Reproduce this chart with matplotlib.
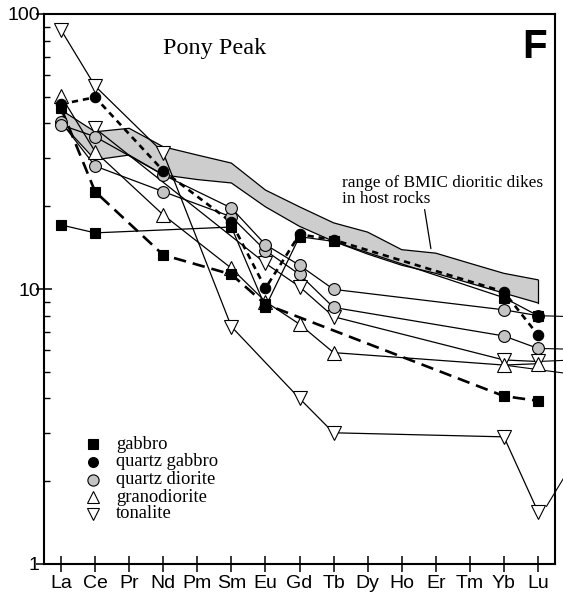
import matplotlib
matplotlib.use("Agg")
import matplotlib.pyplot as plt
import numpy as np

plt.rcParams['lines.scale_dashes'] = False

# Chondrite-normalised REE patterns, Pony Peak intrusive suite
ree = ['La', 'Ce', 'Pr', 'Nd', 'Pm', 'Sm', 'Eu', 'Gd', 'Tb', 'Dy', 'Ho', 'Er', 'Tm', 'Yb', 'Lu']
N = None

gabbro_a = [17.1, 16.0, N, N, N, 16.8, 8.6, 15.5, 14.9, N, N, N, N, 9.3, 8.0]
gabbro_b = [45.5, 22.6, N, 13.3, N, 11.3, 8.8, N, N, N, N, N, N, 4.08, 3.92]
qtz_gabbro = [47.0, 49.8, N, 26.9, N, 17.5, 10.06, 15.8, 15.1, N, N, N, N, 9.77, 6.8]
qtz_diorite_a = [39.5, 35.8, N, 26.0, N, 19.7, 14.5, 12.2, 9.97, N, N, N, N, 8.4, 8.0]
qtz_diorite_b = [40.5, 28.0, N, 22.6, N, 18.3, 13.8, 11.3, 8.57, N, N, N, N, 6.75, 6.08]
granodiorite = [50.3, 31.6, N, 18.6, N, 11.9, 9.0, 7.45, 5.87, N, N, N, N, 5.29, 5.35]
tonalite_a = [87.5, 54.7, N, 31.3, N, 7.3, N, 4.0, 3.0, N, N, N, N, 2.9, 1.55]
tonalite_b = [N, 38.4, N, N, N, N, 12.4, 10.2, 7.93, N, N, N, N, 5.52, 5.45]

# range of BMIC dioritic dikes in host rocks
dike_upper = [44.8, 37.3, 38.4, 32.9, 30.7, 28.7, 22.9, 19.9, 17.4, 16.1, 13.9, 13.5, 12.4, 11.4, 10.8]
dike_lower = [40.2, 29.5, 30.7, 26.0, 25.0, 24.3, 19.9, 16.9, 14.9, 13.4, 12.2, 11.4, 10.5, 9.66, 8.9]

legend_labels = ['gabbro', 'quartz gabbro', 'quartz diorite', 'granodiorite', 'tonalite']

GREY = '#c4c4c4'
styles = {
    'sq': dict(marker='s', ms=7.5, mfc='black', mec='black', mew=0.8),
    'ci': dict(marker='o', ms=7.5, mfc='black', mec='black', mew=0.8),
    'gc': dict(marker='o', ms=8.5, mfc=GREY, mec='black', mew=0.8),
    'up': dict(marker='^', ms=9.5, mfc='white', mec='black', mew=0.8),
    'dn': dict(marker='v', ms=9.5, mfc='white', mec='black', mew=0.8),
}
solid = dict(ls='-', lw=0.9, color='black')
long_dash = dict(ls=(0, (9, 5)), lw=1.9, color='black')
short_dash = dict(ls=(0, (4.5, 3.5)), lw=1.9, color='black')

series = [
    (tonalite_a, 'dn', solid),
    (tonalite_b, 'dn', solid),
    (granodiorite, 'up', solid),
    (qtz_diorite_b, 'gc', solid),
    (qtz_diorite_a, 'gc', solid),
    (gabbro_b, 'sq', long_dash),
    (qtz_gabbro, 'ci', short_dash),
    (gabbro_a, 'sq', solid),
]

fig = plt.figure(figsize=(5.63, 6.07), dpi=100)
ax = fig.add_axes([44 / 563, 43 / 607, 511 / 563, 550 / 607])

x = np.arange(len(ree))
ax.fill_between(x, dike_lower, dike_upper, facecolor='#cdcdcd', edgecolor='none', zorder=1)
ax.plot(x, dike_upper, color='black', lw=0.9, zorder=1.5)
ax.plot(x, dike_lower, color='black', lw=0.9, zorder=1.5)
ax.plot([x[-1], x[-1]], [dike_lower[-1], dike_upper[-1]], color='black', lw=0.9, zorder=1.5)

for k, (vals, mk, ln) in enumerate(series):
    xi = [i for i, v in enumerate(vals) if v is not None]
    yi = [v for v in vals if v is not None]
    ax.plot(xi, yi, zorder=2, **ln)
    ax.plot(xi, yi, ls='none', zorder=3 + 0.1 * k, **styles[mk])

# connector lines leading off the right edge of the panel
xe = 14.75
for y0, y1, x0 in [(qtz_diorite_a[-1], 7.95, 14), (qtz_diorite_b[-1], 6.05, 14),
                   (tonalite_b[-1], 5.5, 14), (granodiorite[-2], 4.95, 13)]:
    ax.plot([x0, xe], [y0, y1], color='black', lw=0.8, clip_on=False, zorder=2)
ax.plot([14.25, xe], [1.62, 2.05], color='black', lw=0.8, clip_on=False, zorder=2)

ax.set_yscale('log')
ax.set_ylim(1, 100)
ax.set_xlim(-0.5, 14.5)
ax.set_xticks(x)
ax.set_xticklabels(ree)
ax.set_yticks([1, 10, 100])
ax.set_yticklabels(['1', '10', '100'])
ax.yaxis.set_minor_locator(matplotlib.ticker.LogLocator(base=10, subs=np.arange(2, 10)))
ax.yaxis.set_minor_formatter(matplotlib.ticker.NullFormatter())

for s in ax.spines.values():
    s.set_linewidth(1.5)
ax.tick_params(axis='x', which='major', direction='inout', length=11.5, width=1.1,
               labelsize=14, pad=2, labelfontfamily='Liberation Sans')
ax.tick_params(axis='y', which='major', direction='inout', length=12, width=1.1,
               labelsize=14, pad=-3, labelfontfamily='Liberation Sans')
ax.tick_params(axis='y', which='minor', direction='in', length=4.5, width=1.0)

serif = 'Liberation Serif'
ax.text(0.233, 0.957, 'Pony Peak', transform=ax.transAxes, fontsize=17.5,
        family=serif, va='top', ha='left')
ax.text(0.985, 0.975, 'F', transform=ax.transAxes, fontsize=29, weight='bold',
        family='Liberation Sans', va='top', ha='right')

ax.text(0.583, 0.686, 'range of BMIC dioritic dikes', transform=ax.transAxes,
        fontsize=12.4, family=serif, va='baseline', ha='left')
ax.text(0.583, 0.656, 'in host rocks', transform=ax.transAxes,
        fontsize=12.4, family=serif, va='baseline', ha='left')
ax.annotate('', xy=(10.87, 13.7), xytext=(10.66, 19.9),
            arrowprops=dict(arrowstyle='-', color='black', lw=0.9))

# legend drawn as symbol + label rows
leg_y = [444.3, 462, 480, 497, 514]
leg_keys = ['sq', 'ci', 'gc', 'up', 'dn']
for lab, key, py in zip(legend_labels, leg_keys, leg_y):
    fy = (564 - py) / 550
    st = dict(styles[key])
    st['ms'] = st['ms'] * 0.95
    ax.plot([0.0953], [fy], transform=ax.transAxes, ls='none', clip_on=False, **st)
    ax.text(0.141, fy, lab, transform=ax.transAxes, fontsize=13.3, family=serif,
            va='center', ha='left')

fig.savefig('out.png', dpi=100)
